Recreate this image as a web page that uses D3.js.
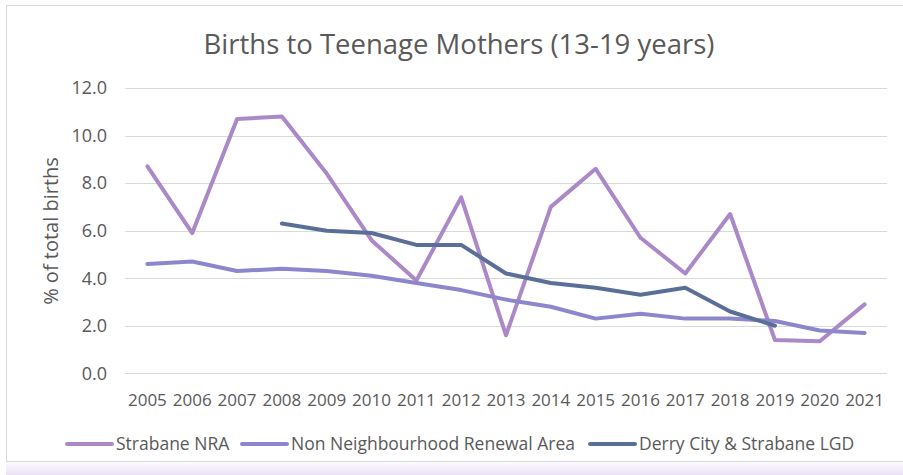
<!DOCTYPE html>
<html>
<head>
<meta charset="utf-8">
<script src="https://cdn.jsdelivr.net/npm/d3@7"></script>
<style>
  body { margin: 0; background: #fff; }
  text { font-family: "Open Sans", sans-serif; fill: #595959; }
</style>
</head>
<body>
<script>
var years = ['2005', '2006', '2007', '2008', '2009', '2010', '2011', '2012', '2013',
             '2014', '2015', '2016', '2017', '2018', '2019', '2020', '2021'];
var strabaneNRA = [8.7, 5.9, 10.7, 10.8, 8.4, 5.6, 3.9, 7.4, 1.6, 7.0, 8.6, 5.7, 4.2, 6.7, 1.4, 1.35, 2.9];
var nonNRA = [4.6, 4.7, 4.3, 4.4, 4.3, 4.1, 3.8, 3.5, 3.1, 2.8, 2.3, 2.5, 2.3, 2.3, 2.2, 1.8, 1.7];
var derryLGD = [null, null, null, 6.3, 6.0, 5.9, 5.4, 5.4, 4.2, 3.8, 3.6, 3.3, 3.6, 2.6, 2.0, null, null];
var yTicks = [0, 2, 4, 6, 8, 10, 12];

var series = [
    { name: 'Strabane NRA', values: strabaneNRA, color: '#ab88c8' },
    { name: 'Non Neighbourhood Renewal Area', values: nonNRA, color: '#8c87cd' },
    { name: 'Derry City & Strabane LGD', values: derryLGD, color: '#5a6f98' }
];

var W = 903, H = 475;

var svg = d3.select('body')
    .append('svg')
    .attr('width', W)
    .attr('height', H);

// lavender shadow along the bottom
var grad = svg.append('defs').append('linearGradient')
    .attr('id', 'shade')
    .attr('x1', 0).attr('y1', 0).attr('x2', 0).attr('y2', 1);
grad.append('stop').attr('offset', '0%').attr('stop-color', '#ffffff');
grad.append('stop').attr('offset', '100%').attr('stop-color', '#ebe2f5');
svg.append('rect')
    .attr('x', 6).attr('y', 460)
    .attr('width', W - 6).attr('height', H - 460)
    .attr('fill', 'url(#shade)');

// chart frame
svg.append('rect')
    .attr('x', 6.5).attr('y', 5.5)
    .attr('width', W + 10).attr('height', 456)
    .attr('fill', 'none')
    .attr('stroke', '#d9d9d9');

var x = d3.scaleBand()
    .domain(years)
    .range([125, 887]);

var y = d3.scaleLinear()
    .domain([0, 12])
    .range([373.3, 88]);

// gridlines
svg.append('g')
    .selectAll('line')
    .data(yTicks)
    .enter()
    .append('line')
    .attr('x1', 125)
    .attr('x2', 887)
    .attr('y1', function (d) { return Math.round(y(d)) + 0.5; })
    .attr('y2', function (d) { return Math.round(y(d)) + 0.5; })
    .attr('stroke', '#d9d9d9')
    .attr('stroke-width', 1);

// y tick labels
svg.append('g')
    .selectAll('text')
    .data(yTicks)
    .enter()
    .append('text')
    .attr('x', 107)
    .attr('y', function (d) { return y(d); })
    .attr('dy', '0.35em')
    .attr('text-anchor', 'end')
    .style('font-size', '18px')
    .text(function (d) { return d3.format('.1f')(d); });

// x tick labels
svg.append('g')
    .selectAll('text')
    .data(years)
    .enter()
    .append('text')
    .attr('x', function (d) { return x(d) + x.bandwidth() / 2; })
    .attr('y', 400)
    .attr('dy', '0.35em')
    .attr('text-anchor', 'middle')
    .style('font-size', '17px')
    .text(function (d) { return d; });

// axis title
svg.append('text')
    .attr('transform', 'translate(51, 231) rotate(-90)')
    .attr('dy', '0.35em')
    .attr('text-anchor', 'middle')
    .style('font-size', '20px')
    .text('% of total births');

// chart title
svg.append('text')
    .attr('x', 459)
    .attr('y', 44)
    .attr('dy', '0.35em')
    .attr('text-anchor', 'middle')
    .style('font-size', '27.5px')
    .text('Births to Teenage Mothers (13-19 years)');

var line = d3.line()
    .defined(function (d) { return d != null; })
    .x(function (d, i) { return x(years[i]) + x.bandwidth() / 2; })
    .y(function (d) { return y(d); });

svg.append('g')
    .selectAll('path')
    .data(series)
    .enter()
    .append('path')
    .attr('d', function (s) { return line(s.values); })
    .attr('fill', 'none')
    .attr('stroke', function (s) { return s.color; })
    .attr('stroke-width', 4)
    .attr('stroke-linejoin', 'round')
    .attr('stroke-linecap', 'round');

// legend
var legendX = [67, 242, 590];
var leg = svg.append('g')
    .selectAll('g')
    .data(series)
    .enter()
    .append('g')
    .attr('transform', function (d, i) { return 'translate(' + legendX[i] + ', 444)'; });

leg.append('line')
    .attr('x1', 0).attr('x2', 45)
    .attr('y1', 0).attr('y2', 0)
    .attr('stroke', function (d) { return d.color; })
    .attr('stroke-width', 4)
    .attr('stroke-linecap', 'round');

leg.append('text')
    .attr('x', 49)
    .attr('y', 0)
    .attr('dy', '0.35em')
    .style('font-size', '17.5px')
    .text(function (d) { return d.name; });
</script>
</body>
</html>
